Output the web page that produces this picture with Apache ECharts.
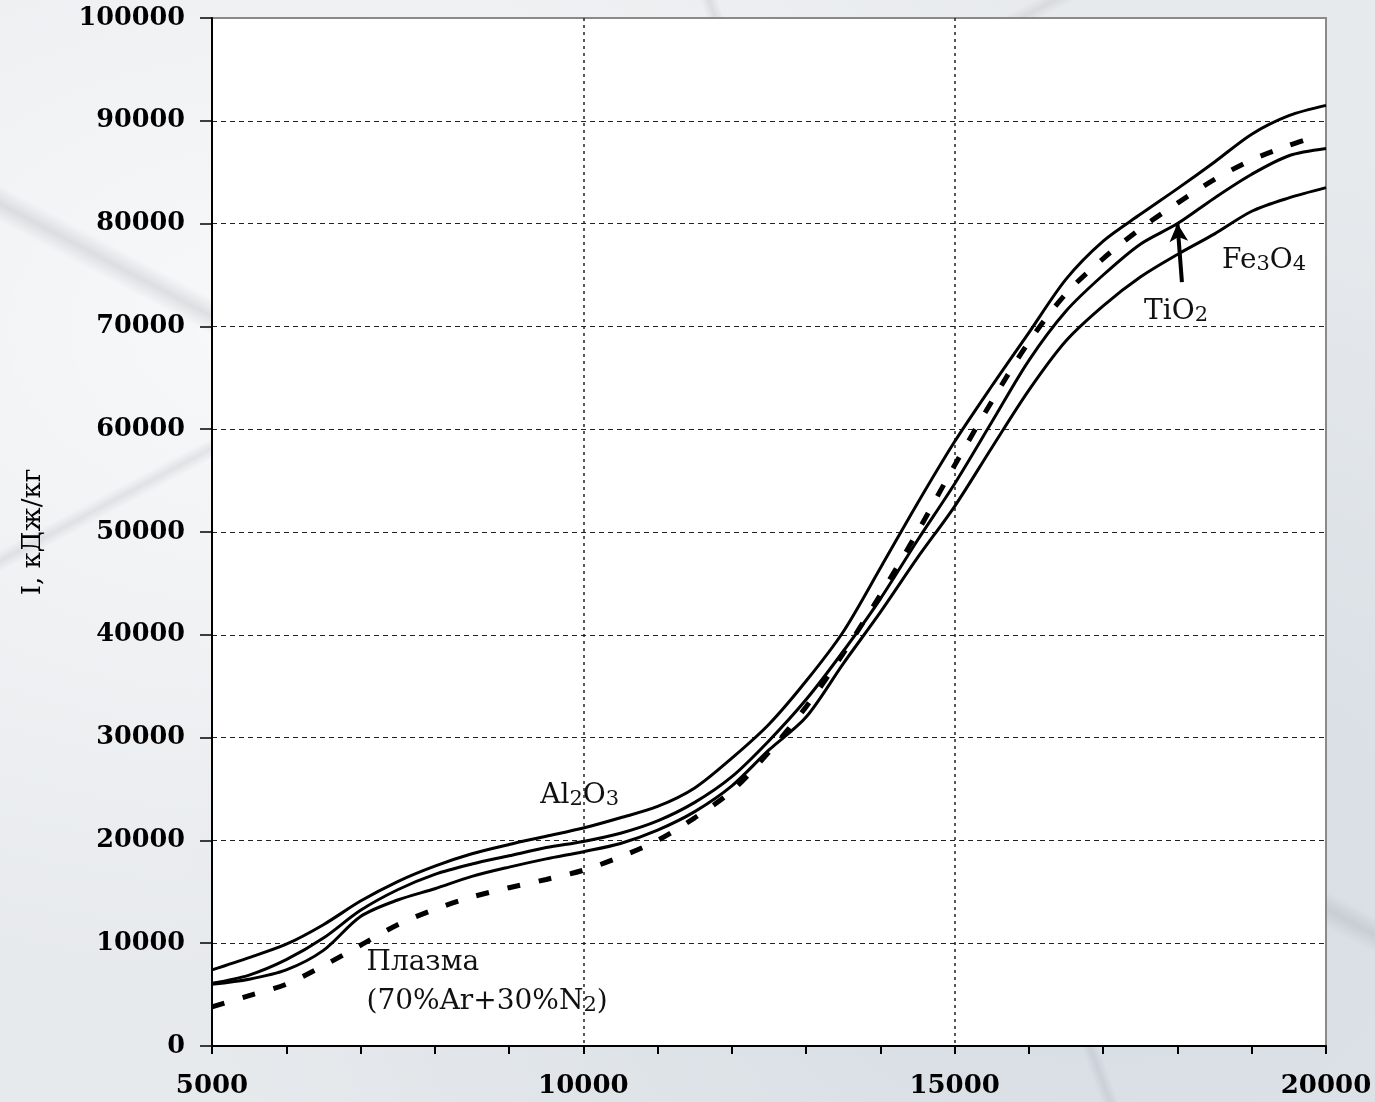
<!DOCTYPE html>
<html>
<head>
<meta charset="utf-8">
<script src="https://cdn.jsdelivr.net/npm/echarts@6/dist/echarts.min.js"></script>
<style>
html,body{margin:0;padding:0;width:1375px;height:1102px;overflow:hidden;}
body{
  background-color:#e7eaed;
  background-image:
    linear-gradient(28deg, rgba(255,255,255,0) 48%, rgba(150,150,160,0.25) 49%, rgba(255,255,255,0) 50%),
    linear-gradient(152deg, rgba(255,255,255,0) 30%, rgba(150,150,160,0.2) 30.6%, rgba(255,255,255,0) 31.2%),
    linear-gradient(70deg, rgba(255,255,255,0) 62%, rgba(150,150,160,0.2) 62.5%, rgba(255,255,255,0) 63%),
    radial-gradient(ellipse at 20% 30%, rgba(255,255,255,0.7), rgba(255,255,255,0) 60%),
    radial-gradient(ellipse at 80% 80%, rgba(200,210,220,0.6), rgba(255,255,255,0) 60%);
}
#chart{width:1375px;height:1102px;}
</style>
</head>
<body>
<div id="chart"></div>
<script>
// Temperature, K
var temps = [5000,5500,6000,6500,7000,7500,8000,8500,9000,9500,10000,10500,11000,11500,12000,12500,13000,13500,14000,14500,15000,15500,16000,16500,17000,17500,18000,18500,19000,19500,20000];
// Enthalpy I, kJ/kg
var al2o3 = [7400,8600,9900,11800,14100,16000,17500,18700,19600,20400,21200,22200,23300,25100,28000,31300,35500,40300,46500,52800,58800,64200,69400,74600,78300,80900,83400,86000,88700,90500,91500];
var tio2  = [6100,6900,8400,10500,13200,15200,16700,17700,18500,19300,19900,20700,21900,23700,26200,29700,33700,38400,43500,49200,54700,60700,66700,71500,75000,78000,80000,82500,84800,86600,87300];
var fe3o4 = [6000,6500,7400,9300,12600,14200,15300,16500,17400,18200,18900,19700,21000,22800,25300,28800,32000,37200,42200,47500,52500,58200,63800,68600,72000,74800,77000,79000,81200,82500,83500];
var plasmaT = [5000,5500,6000,6500,7000,7500,8000,8500,9000,9500,10000,10500,11000,11500,12000,12500,13000,13500,14000,14500,15000,15500,16000,16500,17000,17500,18000,18500,19000,19500,19750];
var plasma  = [3800,4900,6000,7800,9800,11800,13300,14500,15400,16200,17100,18400,20000,22200,24800,28600,33000,38200,43900,50000,56500,62700,68500,73200,76600,79500,82000,84300,86200,87600,88200];
var xTickLabels = [5000,10000,15000,20000];
var yAxisName = 'I, кДж/кг';

function pairs(xs, ys){ return xs.map(function(x,i){ return [x, ys[i]]; }); }

var serif = '"DejaVu Serif", "Liberation Serif", serif';
var rich = {
  n:{fontFamily:serif,fontSize:28,color:'#111',verticalAlign:'bottom',lineHeight:32},
  s:{fontFamily:serif,fontSize:21,color:'#111',verticalAlign:'bottom',lineHeight:26}
};
function annot(coord, text){
  return {coord:coord, value:0, symbolSize:0,
    label:{show:true, position:'inside', align:'left', verticalAlign:'middle', formatter:text, rich:rich}};
}

var chart = echarts.init(document.getElementById('chart'), null, {renderer:'canvas'});
var solid = {color:'#000', width:3};
var option = {
  backgroundColor:'transparent',
  animation:false,
  grid:{left:212, right:49, top:18, bottom:56, show:true, backgroundColor:'#fff', borderColor:'#8a8a8a', borderWidth:2},
  xAxis:{
    type:'value', min:5000, max:20000, interval:5000,
    axisLine:{show:true, onZero:false, lineStyle:{color:'#000', width:2}},
    axisTick:{show:true, length:8, lineStyle:{color:'#000', width:2}},
    minorTick:{show:true, splitNumber:5, length:8, lineStyle:{color:'#000', width:2}},
    axisLabel:{margin:27, fontFamily:serif, fontWeight:'bold', fontSize:26, color:'#000',
      formatter:function(v){ return xTickLabels.indexOf(v) >= 0 ? String(v) : ''; }},
    splitLine:{show:true, showMinLine:false, showMaxLine:false, lineStyle:{color:'#222', width:1.5, type:[3,4]}}
  },
  yAxis:{
    type:'value', min:0, max:100000, interval:10000,
    name:yAxisName, nameLocation:'middle', nameGap:166, nameRotate:90,
    nameTextStyle:{fontFamily:serif, fontSize:26, color:'#000'},
    axisLine:{show:true, lineStyle:{color:'#000', width:2}},
    axisTick:{show:true, length:12, lineStyle:{color:'#000', width:1.5}},
    axisLabel:{margin:27, fontFamily:serif, fontWeight:'bold', fontSize:25.5, color:'#000',
      formatter:function(v){ return String(v); }},
    splitLine:{show:true, showMinLine:false, showMaxLine:false, lineStyle:{color:'#222', width:1.2, type:[5,4]}}
  },
  series:[
    {name:'Al2O3', type:'line', data:pairs(temps, al2o3), smooth:0.3, showSymbol:false, silent:true, lineStyle:solid, itemStyle:{color:'#000'},
     markPoint:{silent:true, symbol:'circle', symbolSize:0, data:[annot([9420,24500], '{n|Al}{s|2}{n|O}{s|3}')]}},
    {name:'TiO2', type:'line', data:pairs(temps, tio2), smooth:0.3, showSymbol:false, silent:true, lineStyle:solid, itemStyle:{color:'#000'},
     markPoint:{silent:true, symbol:'circle', symbolSize:0, data:[annot([17550,71600], '{n|TiO}{s|2}')]},
     markLine:{silent:true, symbol:['none','arrow'], symbolSize:[14,18], label:{show:false},
       lineStyle:{color:'#000', width:4, type:'solid'},
       data:[[{coord:[18060,74300]},{coord:[18000,80000]}]]}},
    {name:'Fe3O4', type:'line', data:pairs(temps, fe3o4), smooth:0.3, showSymbol:false, silent:true, lineStyle:solid, itemStyle:{color:'#000'},
     markPoint:{silent:true, symbol:'circle', symbolSize:0, data:[annot([18600,76600], '{n|Fe}{s|3}{n|O}{s|4}')]}},
    {name:'Plasma', type:'line', data:pairs(plasmaT, plasma), smooth:0.3, showSymbol:false, silent:true,
     lineStyle:{color:'#000', width:5, type:[13,19], cap:'butt'}, itemStyle:{color:'#000'},
     markPoint:{silent:true, symbol:'circle', symbolSize:0, data:[
       annot([7080,8300], '{n|Плазма}'),
       annot([7080,4500], '{n|(70%Ar+30%N}{s|2}{n|)}')
     ]}}
  ]
};
chart.setOption(option);
</script>
</body>
</html>
